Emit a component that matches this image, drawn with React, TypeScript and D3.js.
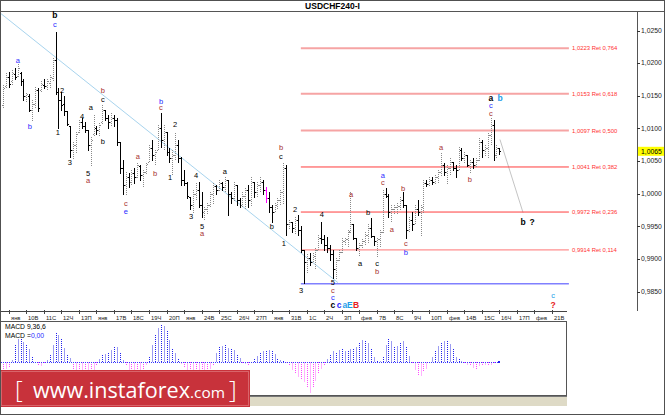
import React from "react";
import * as d3 from "d3";

const W = 665;
const H = 415;
const TITLE = "USDCHF240-I";

// [open, high, low, close] of each 4H bar
const bars: number[][] = [
  [1.0136, 1.0167, 1.0132, 1.0162], [1.0165, 1.0185, 1.0162, 1.0179], [1.0179, 1.0187, 1.0164, 1.0168],
  [1.0172, 1.019, 1.0168, 1.0185], [1.0184, 1.0193, 1.0175, 1.0179], [1.0181, 1.0198, 1.0179, 1.0193],
  [1.0185, 1.0187, 1.0167, 1.0172], [1.0172, 1.0175, 1.0144, 1.0149], [1.0149, 1.0155, 1.0141, 1.0152],
  [1.015, 1.0152, 1.0126, 1.0129], [1.0129, 1.0144, 1.0113, 1.0138], [1.0138, 1.0164, 1.0132, 1.0159],
  [1.0159, 1.0162, 1.0126, 1.0132], [1.0159, 1.0172, 1.0156, 1.0168], [1.0167, 1.0175, 1.0162, 1.0165],
  [1.0165, 1.0175, 1.0159, 1.0172], [1.017, 1.0182, 1.0162, 1.0179], [1.0178, 1.0208, 1.0172, 1.0205],
  [1.0205, 1.0248, 1.0152, 1.0156], [1.0156, 1.0162, 1.0101, 1.0144], [1.0144, 1.0156, 1.0129, 1.0136],
  [1.0138, 1.0149, 1.0121, 1.0126], [1.0126, 1.0126, 1.0106, 1.0107], [1.0103, 1.0103, 1.0057, 1.0067],
  [1.0067, 1.008, 1.0055, 1.0075], [1.0074, 1.0095, 1.0063, 1.0092], [1.0095, 1.0113, 1.0095, 1.011],
  [1.011, 1.0116, 1.0101, 1.0104], [1.0104, 1.011, 1.0095, 1.0098], [1.0098, 1.0098, 1.0067, 1.0075],
  [1.0074, 1.0087, 1.0044, 1.0083], [1.0092, 1.0121, 1.009, 1.0101], [1.0101, 1.0103, 1.0092, 1.0098],
  [1.0098, 1.0109, 1.009, 1.0106], [1.011, 1.0136, 1.0109, 1.0129], [1.0129, 1.0129, 1.0113, 1.0116],
  [1.0116, 1.0121, 1.0101, 1.011], [1.011, 1.0124, 1.0103, 1.0116], [1.0116, 1.0121, 1.0104, 1.0113],
  [1.0113, 1.0116, 1.0075, 1.008], [1.008, 1.008, 1.0032, 1.004], [1.004, 1.0052, 0.9999, 1.0014],
  [1.0014, 1.0034, 0.9999, 1.0025], [1.0025, 1.0032, 1.0011, 1.0018], [1.0018, 1.0037, 1.0014, 1.0032],
  [1.0032, 1.004, 1.0017, 1.0025], [1.0026, 1.0047, 1.0026, 1.0044], [1.0043, 1.0044, 1.0021, 1.0029],
  [1.0029, 1.0037, 1.0011, 1.0034], [1.0034, 1.0047, 1.0032, 1.0046], [1.0049, 1.0075, 1.0049, 1.007],
  [1.007, 1.0083, 1.0052, 1.006], [1.006, 1.0067, 1.0044, 1.0064], [1.0067, 1.0106, 1.0067, 1.0101],
  [1.0101, 1.0124, 1.0072, 1.0083], [1.0083, 1.0106, 1.0067, 1.0095], [1.0095, 1.0095, 1.006, 1.0064],
  [1.0064, 1.007, 1.0049, 1.0055], [1.0055, 1.0067, 1.0029, 1.006], [1.006, 1.0093, 1.0052, 1.0075],
  [1.0075, 1.0083, 1.0049, 1.0055], [1.0055, 1.0057, 1.0014, 1.0021], [1.0021, 1.0037, 1.0014, 1.0017],
  [1.0017, 1.0018, 0.9994, 0.9997], [0.9995, 0.9995, 0.9976, 0.9983], [0.9983, 1.0006, 0.9972, 0.9999],
  [0.9999, 1.0017, 0.9991, 1.0006], [1.0006, 1.0018, 0.9979, 0.9983], [0.9983, 1.0002, 0.9965, 0.9972],
  [0.9972, 0.9979, 0.996, 0.9976], [0.9976, 0.9986, 0.9971, 0.9983], [0.9983, 1.0003, 0.9979, 0.9999],
  [0.9999, 1.0017, 0.9986, 1.0012], [1.0012, 1.0014, 0.9999, 1.0006], [1.0006, 1.0021, 1.0006, 1.0017],
  [1.0017, 1.0018, 1.0006, 1.0011], [1.0011, 1.0026, 1.0002, 1.0021], [1.0021, 1.0021, 0.9968, 0.9999],
  [0.9999, 1.0003, 0.9986, 0.9994], [0.9994, 1.0018, 0.9991, 1.0014], [1.0014, 1.0014, 0.9983, 0.9991],
  [0.9991, 0.9994, 0.9979, 0.9983], [0.9983, 1.0002, 0.9982, 0.9997], [0.9997, 1.0009, 0.9976, 1.0006],
  [1.0006, 1.0014, 0.9979, 0.9991], [0.9991, 1.0025, 0.9983, 1.0018], [1.0018, 1.0018, 0.9995, 1.0003],
  [1.0003, 1.0018, 0.9995, 1.0014], [1.0014, 1.0026, 1.0002, 1.0018], [1.0018, 1.0021, 0.9999, 1.0006],
  [1.0006, 1.0011, 0.9988, 0.9994], [0.9994, 1.0002, 0.9972, 0.9979], [0.9979, 0.9983, 0.9957, 0.9972],
  [0.9972, 0.9986, 0.9972, 0.9983], [0.9983, 0.9994, 0.9976, 0.9991], [0.9991, 1.0006, 0.9983, 1.0003],
  [1.0003, 1.0047, 0.9986, 1.004], [1.004, 1.0044, 0.9937, 0.9953], [0.9953, 0.996, 0.9948, 0.9957],
  [0.9957, 0.9957, 0.9942, 0.9948], [0.9948, 0.9965, 0.994, 0.996], [0.996, 0.9968, 0.9937, 0.9945],
  [0.9945, 0.995, 0.9911, 0.9914], [0.9914, 0.9914, 0.9864, 0.9896], [0.9896, 0.9907, 0.9879, 0.9902],
  [0.9902, 0.991, 0.9891, 0.9896], [0.9896, 0.991, 0.9896, 0.9905], [0.9905, 0.9917, 0.9887, 0.9914],
  [0.9914, 0.9937, 0.9914, 0.9933], [0.9933, 0.9957, 0.9925, 0.993], [0.993, 0.9937, 0.9914, 0.9922],
  [0.9922, 0.9934, 0.9911, 0.9917], [0.9917, 0.9922, 0.9899, 0.9907], [0.9907, 0.9914, 0.9871, 0.9884],
  [0.9884, 0.9902, 0.9871, 0.9899], [0.9899, 0.9914, 0.9899, 0.9911], [0.9911, 0.9933, 0.9911, 0.9927],
  [0.9927, 0.9933, 0.9922, 0.993], [0.993, 0.9945, 0.9919, 0.9942], [0.9943, 1.0002, 0.9942, 0.9953],
  [0.9953, 0.9953, 0.993, 0.9933], [0.9933, 0.9933, 0.9914, 0.9917], [0.9917, 0.9925, 0.9904, 0.9922],
  [0.9922, 0.993, 0.9917, 0.9927], [0.9927, 0.9942, 0.9922, 0.9937], [0.9937, 0.9953, 0.9925, 0.9948],
  [0.9948, 0.9963, 0.9934, 0.9936], [0.9936, 0.9936, 0.9922, 0.9927], [0.9927, 0.9933, 0.9904, 0.993],
  [0.993, 0.9945, 0.9919, 0.9942], [0.9942, 1.0006, 0.9942, 0.9999], [0.9999, 1.0009, 0.9995, 0.9997],
  [0.9997, 0.9999, 0.9965, 0.9972], [0.9972, 0.9983, 0.9957, 0.9976], [0.9976, 0.9983, 0.9971, 0.9979],
  [0.9979, 0.9986, 0.9971, 0.9982], [0.9982, 0.9995, 0.9976, 0.9991], [0.9991, 1.0002, 0.998, 0.9983],
  [0.9983, 0.9983, 0.9933, 0.9945], [0.9945, 0.9965, 0.9942, 0.996], [0.996, 0.9972, 0.9945, 0.9953],
  [0.9953, 0.9983, 0.9953, 0.9976], [0.9976, 0.9991, 0.9968, 0.9972], [0.9972, 0.9983, 0.9937, 0.9979],
  [0.9979, 1.0021, 0.9972, 1.0017], [1.0017, 1.0021, 1.0012, 1.0015], [1.0015, 1.0025, 1.0014, 1.0021],
  [1.0021, 1.0025, 1.0015, 1.0018], [1.0018, 1.0029, 1.0017, 1.0026], [1.0026, 1.0037, 1.0017, 1.0034],
  [1.0034, 1.0063, 1.0029, 1.0044], [1.0044, 1.0047, 1.0029, 1.0034], [1.0034, 1.0044, 1.0017, 1.004],
  [1.004, 1.0055, 1.0029, 1.0049], [1.0049, 1.0049, 1.0037, 1.004], [1.004, 1.0044, 1.0025, 1.0037],
  [1.0037, 1.0072, 1.0037, 1.0067], [1.0067, 1.007, 1.0052, 1.0055], [1.0055, 1.0064, 1.0049, 1.006],
  [1.006, 1.006, 1.0043, 1.0044], [1.0044, 1.0052, 1.0034, 1.0049], [1.0049, 1.0055, 1.004, 1.0044],
  [1.0044, 1.0055, 1.0043, 1.0052], [1.0052, 1.0086, 1.0052, 1.008], [1.008, 1.0083, 1.0057, 1.0067],
  [1.0067, 1.0075, 1.006, 1.007], [1.007, 1.0093, 1.0055, 1.009], [1.009, 1.0116, 1.0075, 1.0106],
  [1.0106, 1.0113, 1.0052, 1.006], [1.006, 1.0075, 1.0057, 1.007], [1.007, 1.007, 1.0061, 1.0065],
];
const HIGHLIGHT_BAR = 90;

// MACD histogram, one value per bar (panel units)
const macdHist: number[] = [
  -7, -7, -6, 2, 17, 23, 23, 20, 17, 13, 5, -1, -3, -4, -1, 2.5, 8, 17, 29, 27.5,
  24, 14, 8, 4, -8, -12, -14, -15, -14, -12, -10, -8, -3, 3, 7, 8, 9, 12, 16, 15,
  9, 2, -3, -8, -11, -13, -13, -11, -8, -3, 6, 17, 28, 34, 38, 36, 31, 22, 13, 9,
  4, -2, -6, -10, -14, -17, -19, -20, -19, -16, -12, -7, -3, 9, 15, 16, 17, 14, 14, 12,
  7, 4, -1, -2, -3, -1, 4, 6, 9, 11, 12, 12, 12, 8, 4, 2, 1, -1, -4, -8,
  -12, -15, -18, -20, -26, -31, -25, -19, -12, -7, -3, 3, 8, 11, 10, 12, 13, 11, 11, 13,
  14, 15, 20, 22, 21, 19, 13, 5, 1, 1, 6, 17, 23, 21, 15, 16, 19, 21, 16, 6,
  -1, -8, -13, -14, -9, -7, -2, 5, 11, 16, 19, 21, 21, 18, 14, 5, 3, 1, -1, -3,
  -4, -6, -7, -4, -3, -3, -4, -3, -1, 0, 0,
];

const dayLabels = [
  "янв", "10В", "11С", "12Ч", "13П", "янв", "17В", "18С", "19Ч", "20П", "янв", "24В", "25С", "26Ч", "27П", "янв",
  "31В", "1С", "2Ч", "3П", "фев", "7В", "8С", "9Ч", "10П", "фев", "14В", "15С", "16Ч", "17П", "фев", "21В",
];
const priceTicks = [1.025, 1.02, 1.015, 1.01, 1.005, 1.0, 0.995, 0.99, 0.985];
const fibPrices = [1.0223, 1.0153, 1.0097, 1.0041, 0.9972, 0.9914];
const fibRatios = ["0,764", "0,618", "0,500", "0,382", "0,236", "0,114"];
const lastPrice = 1.0065;
const supportPrice = 0.9862;
const trendLine: [number, number][] = [[-1.03, 1.0277], [114.7, 0.9864]];
const projection: [number, number][] = [[170.2, 1.0083], [178.1, 0.9971]];

// [text, colour key, bar index, price, bold]
const waveLabels: [string, string, number, number, number][] = [
  ["a", "B", 5.1, 1.0204, 0], ["b", "B", 9.2, 1.0104, 0], ["b", "K", 17.8, 1.0273, 1], ["c", "B", 17.8, 1.0259, 0],
  ["2", "K", 20.2, 1.0158, 0], ["1", "K", 18.8, 1.0095, 0], ["3", "K", 22.9, 1.0049, 0], ["4", "K", 27.1, 1.0119, 0],
  ["a", "K", 30.1, 1.0132, 0], ["5", "K", 29.1, 1.0032, 0], ["a", "R", 29.1, 1.002, 0], ["b", "R", 34.2, 1.0159, 0],
  ["c", "K", 34.2, 1.0145, 0], ["b", "K", 34.2, 1.008, 0], ["c", "R", 42.1, 0.9986, 0], ["e", "B", 42.1, 0.9974, 0],
  ["a", "R", 46.2, 1.0057, 0], ["b", "R", 52.1, 1.0032, 0], ["b", "B", 54.1, 1.0142, 0], ["c", "R", 54.1, 1.0132, 0],
  ["2", "K", 58.9, 1.0106, 0], ["1", "K", 57.2, 1.0026, 0], ["3", "K", 64.4, 0.9965, 0], ["4", "K", 66.1, 1.0028, 0],
  ["5", "K", 68.2, 0.9951, 0], ["a", "R", 68.2, 0.994, 0], ["a", "K", 76, 1.0034, 0], ["b", "K", 92.1, 0.995, 0],
  ["b", "R", 95.2, 1.0072, 0], ["c", "K", 95.2, 1.0057, 0], ["1", "K", 96.2, 0.9925, 0], ["2", "K", 100, 0.9977, 0],
  ["3", "K", 102.1, 0.9853, 0], ["4", "K", 109.2, 0.9969, 0], ["5", "K", 113, 0.9864, 0], ["c", "R", 113, 0.9853, 0],
  ["c", "B", 113, 0.9842, 0], ["c", "K", 113, 0.983, 1], ["c", "B", 115.1, 0.983, 1], ["a", "C", 117.1, 0.983, 1],
  ["E", "C", 118.8, 0.983, 1], ["B", "X", 120.9, 0.983, 1], ["a", "R", 119.2, 0.9999, 0], ["a", "K", 122.3, 0.9894, 0],
  ["b", "K", 125, 0.9971, 0], ["c", "K", 128.1, 0.9894, 0], ["b", "R", 128.1, 0.9882, 0], ["a", "B", 130.1, 1.0029, 0],
  ["c", "R", 130.1, 1.0018, 0], ["a", "R", 133.2, 0.9946, 0], ["b", "R", 137, 1.0009, 0], ["c", "R", 138, 0.9925, 0],
  ["b", "B", 138, 0.991, 0], ["a", "R", 150, 1.0072, 0], ["b", "R", 159.9, 1.0023, 0], ["c", "R", 167.1, 1.0124, 0],
  ["c", "B", 167.1, 1.0135, 0], ["a", "K", 167.1, 1.0147, 1], ["b", "C", 170.2, 1.0147, 1], ["b", "K", 178.1, 0.9957, 1],
  ["?", "K", 181.2, 0.9957, 1], ["c", "C", 188.4, 0.9844, 0], ["?", "X", 188.4, 0.983, 1],
];

const COLORS: Record<string, string> = { K: "#000000", B: "#2a2aff", R: "#a83030", C: "#1e9ee8", X: "#e62020" };
const FONT = "'Liberation Sans', Arial, sans-serif";

export default function App() {
  const xS = d3.scaleLinear().domain([0, 170]).range([3, 499.4]);
  const yS = d3.scaleLinear().domain([0.985, 1.025]).range([291.7, 30.5]);
  const mY = d3.scaleLinear().domain([-40, 40]).range([402.3, 322.3]);
  const fmt = (v: number) => d3.format(".4f")(v).replace(".", ",");
  const r = Math.round;
  const fibX0 = xS(102);
  const fibX1 = xS(193.8);
  const fibLabelX = xS(194.9);
  const fibStyles = [
    { c: "#f6a4a4", w: 2 }, { c: "#f6a4a4", w: 2 }, { c: "#f6a4a4", w: 2 },
    { c: "#ff3c3c", w: 1 }, { c: "#ff3c3c", w: 1 }, { c: "#ff7474", w: 1 },
  ];
  const line = d3.line<[number, number]>().x((d) => xS(d[0])).y((d) => yS(d[1]));

  return (
    <svg width={W} height={H} style={{ position: "absolute", left: 0, top: 0, background: "#fff" }} fontFamily={FONT}>
      <rect x={0} y={0} width={W} height={H} fill="#fff" />
      {/* title */}
      <text x={332.5} y={9} textAnchor="middle" fontSize={8.5} fontWeight="bold" fill="#000">{TITLE}</text>
      <line x1={0} x2={W} y1={11.5} y2={11.5} stroke="#555" />
      {/* right axis */}
      <line x1={637.5} x2={637.5} y1={11} y2={311} stroke="#555" />
      {priceTicks.map((p) => (
        <g key={p}>
          <line x1={637} x2={640} y1={r(yS(p)) + 0.5} y2={r(yS(p)) + 0.5} stroke="#333" />
          <text x={641} y={yS(p) + 2.3} fontSize={6.8} fill="#222">{fmt(p)}</text>
        </g>
      ))}
      <rect x={638} y={yS(lastPrice) - 4.5} width={27} height={9} fill="#ffff00" />
      <text x={641} y={yS(lastPrice) + 2.4} fontSize={6.8} fill="#000">{fmt(lastPrice)}</text>

      {/* trend & projection lines */}
      <path d={line(trendLine) || ""} stroke="#a8d4ee" strokeWidth={1} fill="none" />
      <path d={line(projection) || ""} stroke="#c4c4c4" strokeWidth={1} fill="none" />

      {/* fib levels */}
      {fibPrices.map((p, i) => (
        <g key={p}>
          <line x1={fibX0} x2={fibX1} y1={yS(p)} y2={yS(p)} stroke={fibStyles[i].c} strokeWidth={fibStyles[i].w} />
          <text x={fibLabelX} y={yS(p) + 2.1} fontSize={5.9} fill="#ff3030">{`${fmt(p)} Ret ${fibRatios[i]}`}</text>
        </g>
      ))}
      <line x1={fibX0} x2={fibX1} y1={yS(supportPrice)} y2={yS(supportPrice)} stroke="#8080ff" strokeWidth={1.5} />

      {/* bars */}
      <g shapeRendering="crispEdges">
        {bars.map(([o, h, l, c], i) => {
          const x = r(xS(i)) + 0.5;
          const up = c > o;
          const col = i === HIGHLIGHT_BAR ? "#ff00ff" : up ? "#8a8a8a" : "#000";
          const yo = r(yS(o)) + 0.5;
          const yc = r(yS(c)) + 0.5;
          return (
            <g key={i} stroke={col}>
              <line x1={x} x2={x} y1={r(yS(h))} y2={r(yS(l)) + 1} strokeDasharray={up && i !== HIGHLIGHT_BAR ? "1 1" : undefined} />
              <line x1={x - 1.5} x2={x - 0.5} y1={yo} y2={yo} />
              <line x1={x + 0.5} x2={x + 1.5} y1={yc} y2={yc} />
            </g>
          );
        })}
      </g>

      {/* wave labels */}
      {waveLabels.map(([t, c, idx, p, b], i) => (
        <text key={i} x={xS(idx)} y={yS(p) + 2.8} textAnchor="middle" fontSize={b ? 8.5 : 7.5}
          fontWeight={b ? "bold" : "normal"} fill={COLORS[c]}>{t}</text>
      ))}

      {/* time axis */}
      <line x1={0} x2={567} y1={311.5} y2={311.5} stroke="#444" />
      {dayLabels.map((d, k) => {
        const x = r(xS(2 + 6 * k)) + 0.5;
        return (
          <g key={k}>
            <line x1={x} x2={x} y1={310} y2={314} stroke="#444" />
            <text x={x + 1.5} y={319.5} fontSize={5.8} fill="#222">{d}</text>
          </g>
        );
      })}

      {/* MACD panel */}
      <rect x={0.5} y={321.5} width={566} height={74} fill="#fff" stroke="#555" />
      <g shapeRendering="crispEdges">
        {macdHist.map((v, i) => {
          const x = r(xS(i)) + 0.5;
          const pos = v >= 0;
          const dark = i % 2 === 0;
          const col = pos ? (dark ? "#2222ee" : "#9c9cf2") : (dark ? "#ff4cff" : "#ffb2ff");
          return (
            <line key={i} x1={x} x2={x} y1={mY(0)} y2={mY(v)} stroke={col}
              strokeDasharray={dark ? "1 1" : undefined} />
          );
        })}
        <line x1={1} x2={xS(170)} y1={r(mY(0)) + 0.5} y2={r(mY(0)) + 0.5} stroke="#3a3aff" strokeDasharray="1 1" />
        <rect x={r(xS(170)) - 1} y={r(mY(0)) - 1} width={2} height={2} fill="#2222ee" />
      </g>
      <text x={5} y={329} fontSize={6.8} fill="#000">MACD 9,36,6</text>
      <text x={5} y={337.5} fontSize={6.8} fill="#000">MACD =<tspan fill="#2a2aff">0,00</tspan></text>

      {/* strip under MACD */}
      <rect x={1} y={396} width={566} height={10} fill="#dedac6" />
      <line x1={1} x2={567} y1={396.5} y2={396.5} stroke="#777" />

      {/* watermark */}
      <rect x={0} y={370} width={250} height={37} fill="#c8323b" />
      <rect x={1.5} y={371.5} width={247} height={34} fill="none" stroke="#d9646a" />
      <text x={15} y={398} fontSize={24} fill="#fff" fontFamily="'Open Sans', sans-serif" fontWeight={300}>[</text>
      <text x={33} y={398} fontSize={22} fill="#fff" fontFamily="'Open Sans', sans-serif" textLength={157} lengthAdjust="spacingAndGlyphs">www.instaforex</text>
      <text x={190} y={398} fontSize={15} fill="#fff" fontFamily="'Open Sans', sans-serif" textLength={35} lengthAdjust="spacingAndGlyphs">.com</text>
      <text x={229} y={398} fontSize={24} fill="#fff" fontFamily="'Open Sans', sans-serif" fontWeight={300}>]</text>

      {/* outer frame */}
      <rect x={0.5} y={0.5} width={664} height={414} fill="none" stroke="#505050" />
    </svg>
  );
}
